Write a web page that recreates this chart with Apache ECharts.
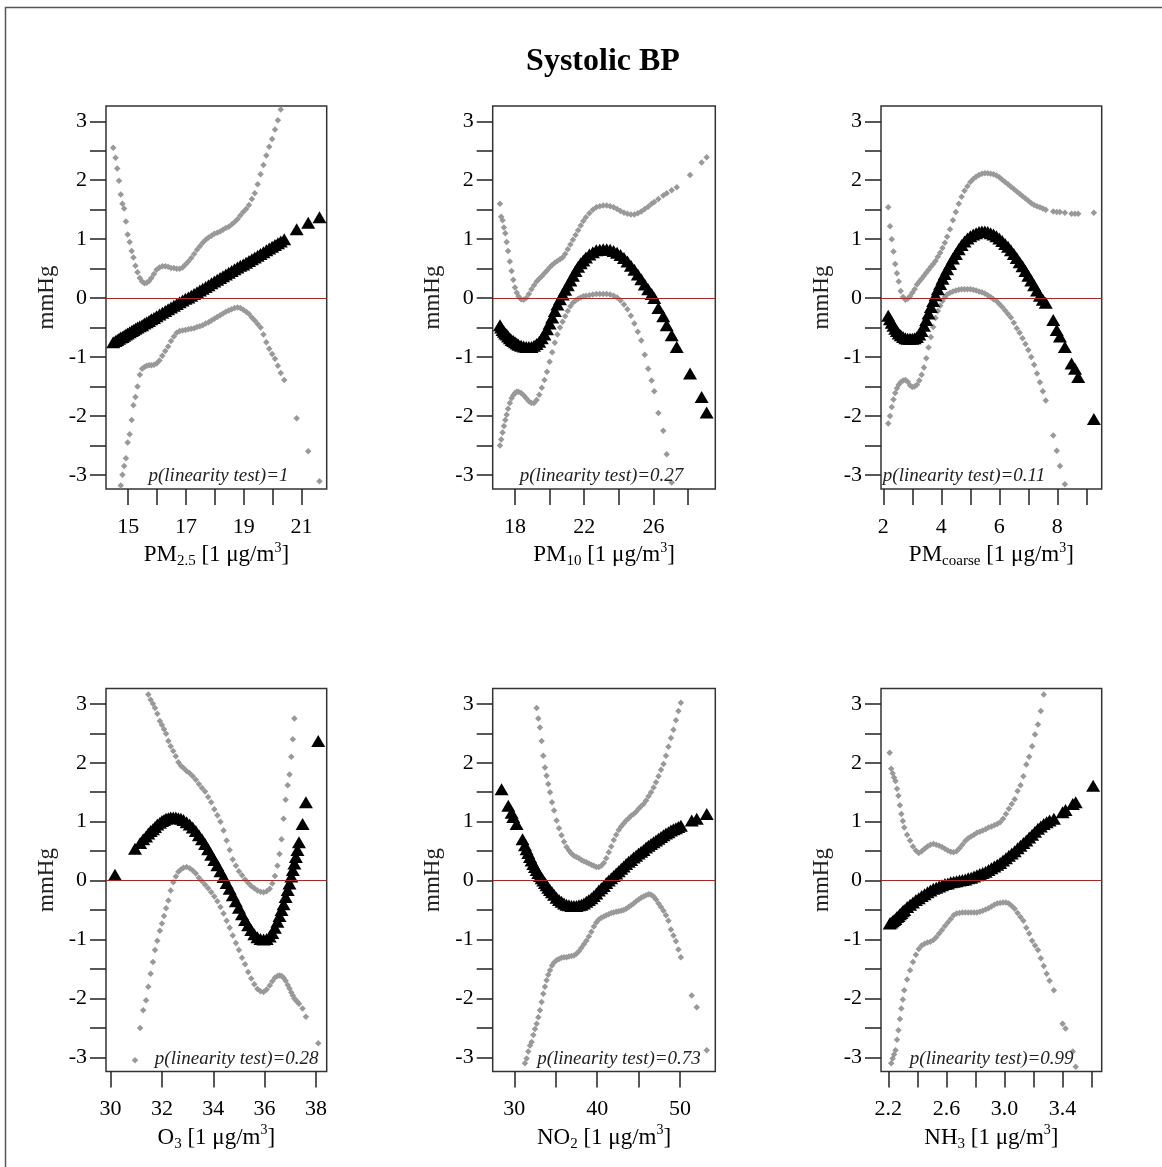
<!DOCTYPE html>
<html><head><meta charset="utf-8">
<script src="https://cdn.jsdelivr.net/npm/echarts@6/dist/echarts.min.js"></script>
<style>html,body{margin:0;padding:0;background:#fff}#c{width:1162px;height:1167px}</style>
</head><body><div id="c"></div><script>
// ---------------- DATA ----------------
const yTicks = [-3,-2.5,-2,-1.5,-1,-0.5,0,0.5,1,1.5,2,2.5,3];
const yLabels = [-3,-2,-1,0,1,2,3];

// PM2.5
const pm25Ticks = [15,16,17,18,19,20,21];
const pm25Labels = [15,17,19,21];
const pm25X = [14.48,14.56,14.62,14.68,14.74,14.80,14.86,14.92,14.98,15.05,
 15.12,15.18,15.25,15.32,15.40,15.48,15.56,15.64,15.72,15.80,
 15.89,15.98,16.08,16.18,16.28,16.38,16.48,16.58,16.68,16.78,
 16.88,16.98,17.08,17.18,17.28,17.38,17.48,17.58,17.68,17.78,
 17.88,17.98,18.08,18.18,18.28,18.38,18.48,18.58,18.68,18.78,
 18.88,18.98,19.08,19.18,19.28,19.38,19.48,19.58,19.68,19.78,
 19.88,19.98,20.08,20.18,20.28,20.40,20.83,21.23,21.62];
const pm25Fit = [-0.75,-0.73,-0.71,-0.69,-0.67,-0.66,-0.64,-0.62,-0.60,-0.58,
 -0.56,-0.54,-0.52,-0.50,-0.48,-0.46,-0.43,-0.41,-0.39,-0.36,
 -0.34,-0.31,-0.28,-0.25,-0.22,-0.19,-0.16,-0.13,-0.10,-0.07,
 -0.04,-0.01,0.01,0.04,0.07,0.10,0.13,0.16,0.19,0.22,
 0.25,0.28,0.31,0.34,0.37,0.40,0.43,0.46,0.49,0.52,
 0.55,0.57,0.60,0.63,0.66,0.69,0.72,0.75,0.78,0.81,
 0.84,0.87,0.90,0.93,0.96,1.00,1.17,1.28,1.37];
const pm25Hi = [2.55,2.38,2.20,1.99,1.76,1.60,1.52,1.30,1.08,0.95,
 0.80,0.69,0.55,0.44,0.34,0.28,0.25,0.26,0.29,0.34,
 0.41,0.48,0.52,0.54,0.54,0.53,0.51,0.51,0.50,0.50,
 0.52,0.57,0.62,0.68,0.75,0.82,0.88,0.94,0.99,1.03,
 1.06,1.09,1.11,1.13,1.16,1.19,1.21,1.25,1.29,1.34,
 1.40,1.46,1.51,1.58,1.68,1.78,1.93,2.10,2.26,2.42,
 2.57,2.70,2.86,3.02,3.20,3.45,4.30,5.00,5.80];
const pm25Lo = [-4.10,-3.80,-3.55,-3.35,-3.18,-3.00,-2.85,-2.72,-2.45,-2.31,
 -2.07,-1.82,-1.68,-1.50,-1.30,-1.20,-1.17,-1.15,-1.14,-1.14,
 -1.13,-1.11,-1.06,-0.98,-0.90,-0.82,-0.73,-0.65,-0.59,-0.56,
 -0.55,-0.54,-0.53,-0.52,-0.51,-0.49,-0.48,-0.46,-0.43,-0.41,
 -0.38,-0.35,-0.32,-0.29,-0.26,-0.23,-0.21,-0.19,-0.17,-0.16,
 -0.17,-0.20,-0.23,-0.27,-0.33,-0.38,-0.44,-0.50,-0.62,-0.75,
 -0.86,-0.95,-1.03,-1.15,-1.27,-1.39,-2.04,-2.60,-3.11];

// PM10
const pm10Ticks = [18,20,22,24,26,28];
const pm10Labels = [18,22,26];
const pm10X = [17.13,17.20,17.28,17.36,17.44,17.52,17.60,17.70,17.80,17.90,
 18.00,18.10,18.20,18.35,18.50,18.65,18.80,18.95,19.10,19.25,
 19.40,19.55,19.70,19.85,20.00,20.15,20.30,20.45,20.60,20.75,
 20.90,21.05,21.20,21.35,21.50,21.65,21.80,21.95,22.10,22.30,
 22.50,22.70,22.90,23.10,23.30,23.50,23.70,23.90,24.10,24.30,
 24.50,24.70,24.90,25.10,25.30,25.50,25.70,25.90,26.05,26.29,
 26.57,26.77,27.06,27.35,28.12,28.79,29.08];
const pm10Fit = [-0.46,-0.50,-0.54,-0.57,-0.60,-0.62,-0.65,-0.68,-0.71,-0.73,
 -0.75,-0.77,-0.79,-0.81,-0.82,-0.83,-0.83,-0.83,-0.81,-0.78,
 -0.74,-0.68,-0.62,-0.53,-0.43,-0.33,-0.22,-0.11,-0.02,0.06,
 0.14,0.22,0.30,0.38,0.46,0.53,0.59,0.64,0.69,0.74,
 0.78,0.81,0.82,0.83,0.83,0.82,0.80,0.77,0.73,0.68,
 0.62,0.55,0.48,0.40,0.32,0.23,0.15,0.07,0.00,-0.17,
 -0.31,-0.46,-0.63,-0.83,-1.28,-1.68,-1.94];
const pm10Hi = [1.60,1.38,1.32,1.20,1.10,0.95,0.80,0.62,0.46,0.31,
 0.18,0.09,0.03,-0.02,-0.03,0.00,0.07,0.15,0.22,0.28,
 0.33,0.37,0.42,0.47,0.52,0.56,0.60,0.63,0.66,0.69,
 0.75,0.83,0.91,0.99,1.07,1.15,1.23,1.31,1.37,1.44,
 1.50,1.54,1.56,1.57,1.57,1.56,1.54,1.51,1.48,1.45,
 1.43,1.42,1.42,1.44,1.47,1.51,1.55,1.60,1.63,1.68,
 1.74,1.78,1.83,1.88,2.09,2.30,2.39];
const pm10Lo = [-2.50,-2.40,-2.28,-2.17,-2.07,-1.98,-1.88,-1.78,-1.70,-1.65,
 -1.61,-1.59,-1.59,-1.61,-1.65,-1.70,-1.75,-1.78,-1.78,-1.73,
 -1.64,-1.52,-1.39,-1.25,-1.08,-0.92,-0.76,-0.62,-0.50,-0.40,
 -0.31,-0.22,-0.14,-0.08,-0.04,-0.01,0.01,0.03,0.04,0.05,
 0.06,0.07,0.07,0.07,0.07,0.06,0.04,0.01,-0.04,-0.11,
 -0.19,-0.30,-0.43,-0.57,-0.72,-0.96,-1.20,-1.40,-1.58,-1.95,
 -2.25,-2.65,-3.13,-3.60,-4.60,-5.40,-6.00];

// PM coarse
const pmcTicks = [2,3,4,5,6,7,8,9];
const pmcLabels = [2,4,6,8];
const pmcX = [2.17,2.23,2.29,2.35,2.41,2.47,2.53,2.60,2.68,2.76,
 2.84,2.92,3.00,3.08,3.16,3.24,3.32,3.40,3.48,3.56,
 3.64,3.72,3.80,3.88,3.96,4.04,4.12,4.20,4.30,4.40,
 4.50,4.60,4.70,4.80,4.90,5.00,5.10,5.20,5.30,5.40,
 5.50,5.60,5.70,5.80,5.90,6.00,6.10,6.20,6.30,6.40,
 6.50,6.60,6.70,6.80,6.90,7.00,7.10,7.20,7.30,7.40,
 7.50,7.60,7.86,7.98,8.09,8.26,8.49,8.61,8.72,9.26];
const pmcFit = [-0.30,-0.36,-0.42,-0.47,-0.52,-0.56,-0.60,-0.63,-0.66,-0.68,
 -0.69,-0.69,-0.69,-0.68,-0.66,-0.62,-0.56,-0.47,-0.37,-0.26,
 -0.15,-0.05,0.05,0.15,0.24,0.33,0.41,0.49,0.58,0.67,
 0.75,0.83,0.90,0.96,1.01,1.05,1.08,1.10,1.12,1.13,
 1.13,1.12,1.10,1.08,1.05,1.01,0.97,0.92,0.87,0.81,
 0.75,0.68,0.61,0.54,0.46,0.38,0.30,0.22,0.13,0.04,
 -0.03,-0.08,-0.37,-0.54,-0.65,-0.83,-1.11,-1.20,-1.34,-2.05];
const pmcHi = [1.54,1.22,1.00,0.79,0.58,0.42,0.28,0.12,0.02,-0.03,
 -0.01,0.03,0.09,0.15,0.23,0.28,0.33,0.38,0.43,0.48,
 0.53,0.58,0.63,0.70,0.77,0.85,0.94,1.04,1.17,1.32,
 1.46,1.60,1.72,1.82,1.90,1.97,2.02,2.06,2.09,2.11,
 2.12,2.12,2.11,2.10,2.08,2.05,2.01,1.97,1.93,1.89,
 1.85,1.81,1.77,1.73,1.69,1.65,1.61,1.58,1.56,1.54,
 1.52,1.50,1.47,1.46,1.46,1.45,1.43,1.43,1.43,1.45];
const pmcLo = [-2.13,-2.00,-1.85,-1.72,-1.61,-1.53,-1.47,-1.43,-1.40,-1.39,
 -1.42,-1.48,-1.51,-1.50,-1.47,-1.40,-1.30,-1.18,-1.02,-0.84,
 -0.66,-0.49,-0.34,-0.22,-0.13,-0.05,0.02,0.06,0.09,0.11,
 0.13,0.14,0.15,0.15,0.15,0.15,0.14,0.13,0.11,0.10,
 0.08,0.05,0.02,-0.02,-0.05,-0.10,-0.15,-0.21,-0.27,-0.33,
 -0.42,-0.51,-0.59,-0.68,-0.78,-0.88,-1.00,-1.13,-1.28,-1.43,
 -1.58,-1.74,-2.33,-2.59,-2.85,-3.16,-3.70,-3.90,-4.10,-5.50];

// O3
const o3Ticks = [30,32,34,36,38];
const o3Labels = [30,32,34,36,38];
const o3X = [30.17,30.95,31.15,31.27,31.38,31.47,31.56,31.65,31.73,31.82,
 31.92,32.00,32.08,32.16,32.25,32.34,32.44,32.54,32.64,32.74,
 32.84,32.96,33.08,33.20,33.32,33.44,33.56,33.68,33.80,33.92,
 34.04,34.16,34.28,34.40,34.52,34.64,34.76,34.88,35.00,35.12,
 35.24,35.36,35.48,35.60,35.72,35.84,35.96,36.08,36.20,36.30,
 36.40,36.50,36.58,36.66,36.74,36.82,36.90,36.97,37.04,37.10,
 37.16,37.22,37.28,37.34,37.48,37.61,38.09];
const o3Fit = [0.10,0.54,0.64,0.70,0.75,0.80,0.84,0.87,0.91,0.95,
 0.98,1.01,1.03,1.05,1.06,1.07,1.07,1.07,1.06,1.05,
 1.03,0.99,0.95,0.90,0.84,0.77,0.70,0.62,0.53,0.44,
 0.35,0.26,0.16,0.06,-0.04,-0.14,-0.25,-0.35,-0.46,-0.57,
 -0.67,-0.76,-0.84,-0.91,-0.96,-0.99,-1.00,-0.99,-0.95,-0.89,
 -0.80,-0.70,-0.60,-0.50,-0.40,-0.28,-0.16,-0.05,0.07,0.18,
 0.29,0.40,0.52,0.65,0.96,1.33,2.37];
const o3Hi = [6.00,4.10,3.70,3.45,3.28,3.16,3.07,3.00,2.93,2.83,
 2.71,2.64,2.57,2.49,2.37,2.28,2.20,2.11,2.01,1.95,
 1.91,1.86,1.82,1.77,1.71,1.64,1.57,1.51,1.42,1.33,
 1.21,1.11,1.00,0.85,0.68,0.52,0.36,0.25,0.16,0.09,
 0.02,-0.04,-0.09,-0.13,-0.17,-0.19,-0.20,-0.18,-0.14,-0.05,
 0.08,0.25,0.45,0.70,1.05,1.37,1.62,1.80,2.10,2.40,
 2.75,3.30,3.70,4.20,5.00,5.80,7.50];
const o3Lo = [-5.50,-3.05,-2.50,-2.20,-2.03,-1.80,-1.58,-1.38,-1.18,-1.02,
 -0.85,-0.73,-0.60,-0.47,-0.34,-0.17,-0.03,0.07,0.15,0.19,
 0.22,0.23,0.21,0.17,0.12,0.05,-0.01,-0.07,-0.13,-0.20,
 -0.27,-0.35,-0.45,-0.56,-0.68,-0.80,-0.93,-1.06,-1.18,-1.31,
 -1.42,-1.55,-1.66,-1.76,-1.84,-1.88,-1.89,-1.85,-1.78,-1.71,
 -1.65,-1.62,-1.61,-1.62,-1.65,-1.70,-1.77,-1.83,-1.90,-1.95,
 -2.00,-2.03,-2.06,-2.09,-2.17,-2.31,-2.76];

// NO2
const no2Ticks = [30,35,40,45,50];
const no2Labels = [30,40,50];
const no2X = [28.47,29.28,29.68,29.88,30.28,31.00,31.29,31.49,31.69,31.90,
 32.09,32.30,32.50,32.70,32.90,33.10,33.30,33.50,33.70,33.90,
 34.10,34.31,34.55,34.80,35.10,35.40,35.70,36.00,36.30,36.60,
 36.90,37.20,37.50,37.80,38.10,38.40,38.70,39.00,39.30,39.60,
 39.90,40.20,40.50,40.80,41.10,41.40,41.70,42.00,42.30,42.60,
 42.90,43.20,43.50,43.80,44.10,44.40,44.70,45.00,45.30,45.60,
 45.90,46.20,46.50,46.80,47.10,47.40,47.70,48.00,48.30,48.60,
 48.90,49.20,49.50,49.80,50.10,51.41,52.01,53.22];
const no2Fit = [1.55,1.27,1.15,1.08,0.96,0.70,0.60,0.53,0.47,0.40,
 0.34,0.28,0.23,0.18,0.13,0.08,0.04,0.00,-0.04,-0.08,
 -0.12,-0.16,-0.20,-0.24,-0.29,-0.33,-0.36,-0.39,-0.41,-0.42,
 -0.43,-0.43,-0.43,-0.42,-0.41,-0.39,-0.36,-0.33,-0.30,-0.26,
 -0.22,-0.17,-0.13,-0.09,-0.04,0.00,0.04,0.08,0.12,0.16,
 0.20,0.24,0.28,0.32,0.35,0.39,0.42,0.46,0.49,0.52,
 0.56,0.59,0.62,0.65,0.68,0.71,0.74,0.77,0.80,0.82,
 0.85,0.87,0.89,0.91,0.93,1.02,1.05,1.13];
const no2Hi = [6.50,5.70,5.30,5.10,4.60,3.90,3.60,3.45,3.40,3.35,
 3.32,3.30,3.28,2.93,2.75,2.60,2.37,2.12,1.92,1.78,
 1.64,1.50,1.33,1.19,1.02,0.89,0.77,0.66,0.57,0.51,
 0.46,0.42,0.40,0.38,0.35,0.33,0.31,0.29,0.27,0.25,
 0.23,0.23,0.25,0.30,0.38,0.48,0.58,0.69,0.78,0.86,
 0.92,0.97,1.02,1.06,1.10,1.13,1.17,1.22,1.26,1.30,
 1.36,1.43,1.50,1.58,1.67,1.77,1.88,1.98,2.12,2.27,
 2.42,2.56,2.72,2.88,3.02,4.00,4.30,5.20];
const no2Lo = [-3.40,-3.50,-3.45,-3.40,-3.35,-3.40,-3.10,-3.02,-2.90,-2.80,
 -2.74,-2.62,-2.52,-2.43,-2.32,-2.20,-2.06,-1.92,-1.80,-1.69,
 -1.60,-1.52,-1.44,-1.39,-1.35,-1.33,-1.31,-1.30,-1.30,-1.29,
 -1.28,-1.27,-1.24,-1.20,-1.14,-1.08,-1.02,-0.95,-0.87,-0.78,
 -0.71,-0.66,-0.63,-0.61,-0.59,-0.57,-0.55,-0.54,-0.53,-0.52,
 -0.51,-0.50,-0.48,-0.45,-0.42,-0.39,-0.35,-0.32,-0.29,-0.27,
 -0.25,-0.23,-0.24,-0.27,-0.32,-0.39,-0.45,-0.51,-0.59,-0.68,
 -0.83,-0.93,-1.03,-1.17,-1.30,-1.95,-2.15,-2.88];

// NH3
const nh3Ticks = [2.2,2.4,2.6,2.8,3.0,3.2,3.4,3.6];
const nh3Labels = [2.2,2.6,3.0,3.4];
const nh3X = [2.21,2.22,2.23,2.24,2.25,2.26,2.27,2.28,2.29,2.30,
 2.31,2.33,2.35,2.37,2.39,2.41,2.43,2.45,2.47,2.49,
 2.51,2.53,2.55,2.57,2.59,2.61,2.63,2.65,2.67,2.69,
 2.71,2.73,2.75,2.77,2.79,2.81,2.83,2.85,2.87,2.89,
 2.91,2.93,2.95,2.97,2.99,3.01,3.03,3.05,3.07,3.09,
 3.11,3.13,3.15,3.17,3.19,3.21,3.23,3.25,3.27,3.29,
 3.31,3.34,3.40,3.42,3.47,3.49,3.61];
const nh3Fit = [-0.73,-0.71,-0.69,-0.67,-0.65,-0.62,-0.60,-0.57,-0.55,-0.52,
 -0.50,-0.45,-0.41,-0.37,-0.33,-0.30,-0.26,-0.23,-0.20,-0.17,
 -0.14,-0.12,-0.10,-0.08,-0.06,-0.05,-0.03,-0.02,-0.01,0.00,
 0.01,0.02,0.04,0.05,0.07,0.09,0.11,0.13,0.15,0.18,
 0.21,0.24,0.27,0.30,0.34,0.38,0.42,0.46,0.50,0.55,
 0.59,0.64,0.68,0.73,0.78,0.83,0.88,0.92,0.96,0.99,
 1.02,1.05,1.16,1.20,1.30,1.33,1.61];
const nh3Hi = [2.17,1.90,1.82,1.75,1.69,1.56,1.44,1.28,1.13,1.01,
 0.90,0.78,0.68,0.58,0.51,0.47,0.50,0.54,0.58,0.61,
 0.62,0.61,0.59,0.57,0.54,0.51,0.49,0.48,0.50,0.55,
 0.61,0.67,0.72,0.75,0.78,0.81,0.83,0.85,0.87,0.90,
 0.92,0.94,0.96,0.99,1.05,1.13,1.22,1.30,1.38,1.52,
 1.62,1.77,1.97,2.10,2.28,2.48,2.65,2.88,3.16,3.40,
 3.60,3.90,4.60,4.90,5.50,5.80,7.00];
const nh3Lo = [-3.60,-3.10,-3.02,-2.95,-2.88,-2.70,-2.54,-2.35,-2.17,-2.02,
 -1.86,-1.68,-1.52,-1.38,-1.26,-1.16,-1.10,-1.07,-1.05,-1.04,
 -1.01,-0.96,-0.90,-0.84,-0.77,-0.71,-0.65,-0.59,-0.56,-0.55,
 -0.54,-0.54,-0.54,-0.54,-0.54,-0.54,-0.53,-0.51,-0.49,-0.47,
 -0.44,-0.41,-0.39,-0.38,-0.37,-0.37,-0.39,-0.43,-0.48,-0.55,
 -0.62,-0.68,-0.80,-0.90,-1.02,-1.10,-1.18,-1.32,-1.45,-1.58,
 -1.70,-1.86,-2.43,-2.51,-2.90,-3.16,-4.00];

const pValues = ['1','0.27','0.11','0.28','0.73','0.99'];
const axisNames = [
  ['PM','2.5'], ['PM','10'], ['PM','coarse'], ['O','3'], ['NO','2'], ['NH','3']
];

// ---------------- LAYOUT ----------------
const FONT = '"Liberation Serif","Times New Roman",serif';
const colL = 106, colM = 492.7, colR = 881;
const rowT = 106, rowB = 688.5, H = 383;
const panels = [
  {x:pm25X, fit:pm25Fit, lo:pm25Lo, hi:pm25Hi, ticks:pm25Ticks, labels:pm25Labels, left:colL, top:rowT, width:220.7, xmin:14.23, xmax:21.87, px:218.5},
  {x:pm10X, fit:pm10Fit, lo:pm10Lo, hi:pm10Hi, ticks:pm10Ticks, labels:pm10Labels, left:colM, top:rowT, width:222.6, xmin:16.71, xmax:29.58, px:601.5},
  {x:pmcX, fit:pmcFit, lo:pmcLo, hi:pmcHi, ticks:pmcTicks, labels:pmcLabels, left:colR, top:rowT, width:220.7, xmin:1.92, xmax:9.53, px:964},
  {x:o3X, fit:o3Fit, lo:o3Lo, hi:o3Hi, ticks:o3Ticks, labels:o3Labels, left:colL, top:rowB, width:220.7, xmin:29.82, xmax:38.42, px:236.7},
  {x:no2X, fit:no2Fit, lo:no2Lo, hi:no2Hi, ticks:no2Ticks, labels:no2Labels, left:colM, top:rowB, width:222.6, xmin:27.4, xmax:54.25, px:619},
  {x:nh3X, fit:nh3Fit, lo:nh3Lo, hi:nh3Hi, ticks:nh3Ticks, labels:nh3Labels, left:colR, top:rowB, width:220.7, xmin:2.15, xmax:3.669, px:991.7, dec:1}
];
const YMIN = -3.24, YMAX = 3.26;
const zip = (a, b) => a.map((v, i) => [v, b[i]]);

const richName = {
  n: {fontFamily: FONT, fontSize: 23, lineHeight: 28, color: '#000'},
  sub: {fontFamily: FONT, fontSize: 15, lineHeight: 17, verticalAlign: 'bottom', color: '#000'},
  sup: {fontFamily: FONT, fontSize: 14, lineHeight: 14, verticalAlign: 'top', color: '#000'}
};
const tickStyle = {color: '#222', width: 1.5};

const grid = [], xAxis = [], yAxis = [], series = [], graphic = [];
graphic.push({type:'rect', shape:{x:5.5, y:7.5, width:1300, height:1300}, style:{fill:'none', stroke:'#555', lineWidth:1.5}, z:-10, silent:true});
graphic.push({type:'text', x:603, y:62, style:{text:'Systolic BP', font:'bold 32px ' + FONT, fill:'#000', align:'center', verticalAlign:'middle'}, silent:true});

panels.forEach((p, i) => {
  grid.push({left:p.left, top:p.top, width:p.width, height:H, show:true, borderColor:'#333', borderWidth:1.5, backgroundColor:'transparent'});
  const nm = axisNames[i];
  xAxis.push({
    type:'value', gridIndex:i, min:p.xmin, max:p.xmax,
    axisLine:{show:false, onZero:false}, splitLine:{show:false},
    axisTick:{show:true, customValues:p.ticks, length:16, lineStyle:tickStyle},
    axisLabel:{customValues:p.labels, fontSize:22, fontFamily:FONT, color:'#000', margin:27,
      formatter: v => p.dec ? v.toFixed(p.dec) : String(v)},
    name:'{n|' + nm[0] + '}{sub|' + nm[1] + '}{n| [1 μg/m}{sup|3}{n|]}',
    nameLocation:'middle', nameGap:52, nameTextStyle:{rich:richName}
  });
  yAxis.push({
    type:'value', gridIndex:i, min:YMIN, max:YMAX,
    axisLine:{show:false, onZero:false}, splitLine:{show:false},
    axisTick:{show:true, customValues:yTicks, length:16, lineStyle:tickStyle},
    axisLabel:{customValues:yLabels, fontSize:22, fontFamily:FONT, color:'#000', margin:19},
    name:'mmHg', nameLocation:'middle', nameGap:48,
    nameTextStyle:{fontFamily:FONT, fontSize:23, color:'#222'}
  });
  const common = {type:'scatter', xAxisIndex:i, yAxisIndex:i, silent:true, clip:true, animation:false};
  series.push(Object.assign({}, common, {data:zip(p.x, p.lo), symbol:'diamond', symbolSize:6.5, itemStyle:{color:'#999999', opacity:1}, z:2}));
  series.push(Object.assign({}, common, {data:zip(p.x, p.hi), symbol:'diamond', symbolSize:6.5, itemStyle:{color:'#999999', opacity:1}, z:2}));
  series.push(Object.assign({}, common, {data:zip(p.x, p.fit), symbol:'triangle', symbolSize:[14,12], itemStyle:{color:'#000', opacity:1}, z:3,
    markLine:{silent:true, symbol:'none', z:10, animation:false, label:{show:false},
      lineStyle:{color:'#ff0000', width:1.2, type:'solid'}, data:[{yAxis:0}]}}));
  graphic.push({type:'text', x:p.px, y:p.top + H - 13, style:{text:'p(linearity test)=' + pValues[i], font:'italic 19px ' + FONT, fill:'#222', align:'center', verticalAlign:'middle'}, silent:true, z:20});
});

const chart = echarts.init(document.getElementById('c'), null, {renderer:'canvas'});
chart.setOption({animation:false, backgroundColor:'#fff', grid, xAxis, yAxis, series, graphic});
</script></body></html>
